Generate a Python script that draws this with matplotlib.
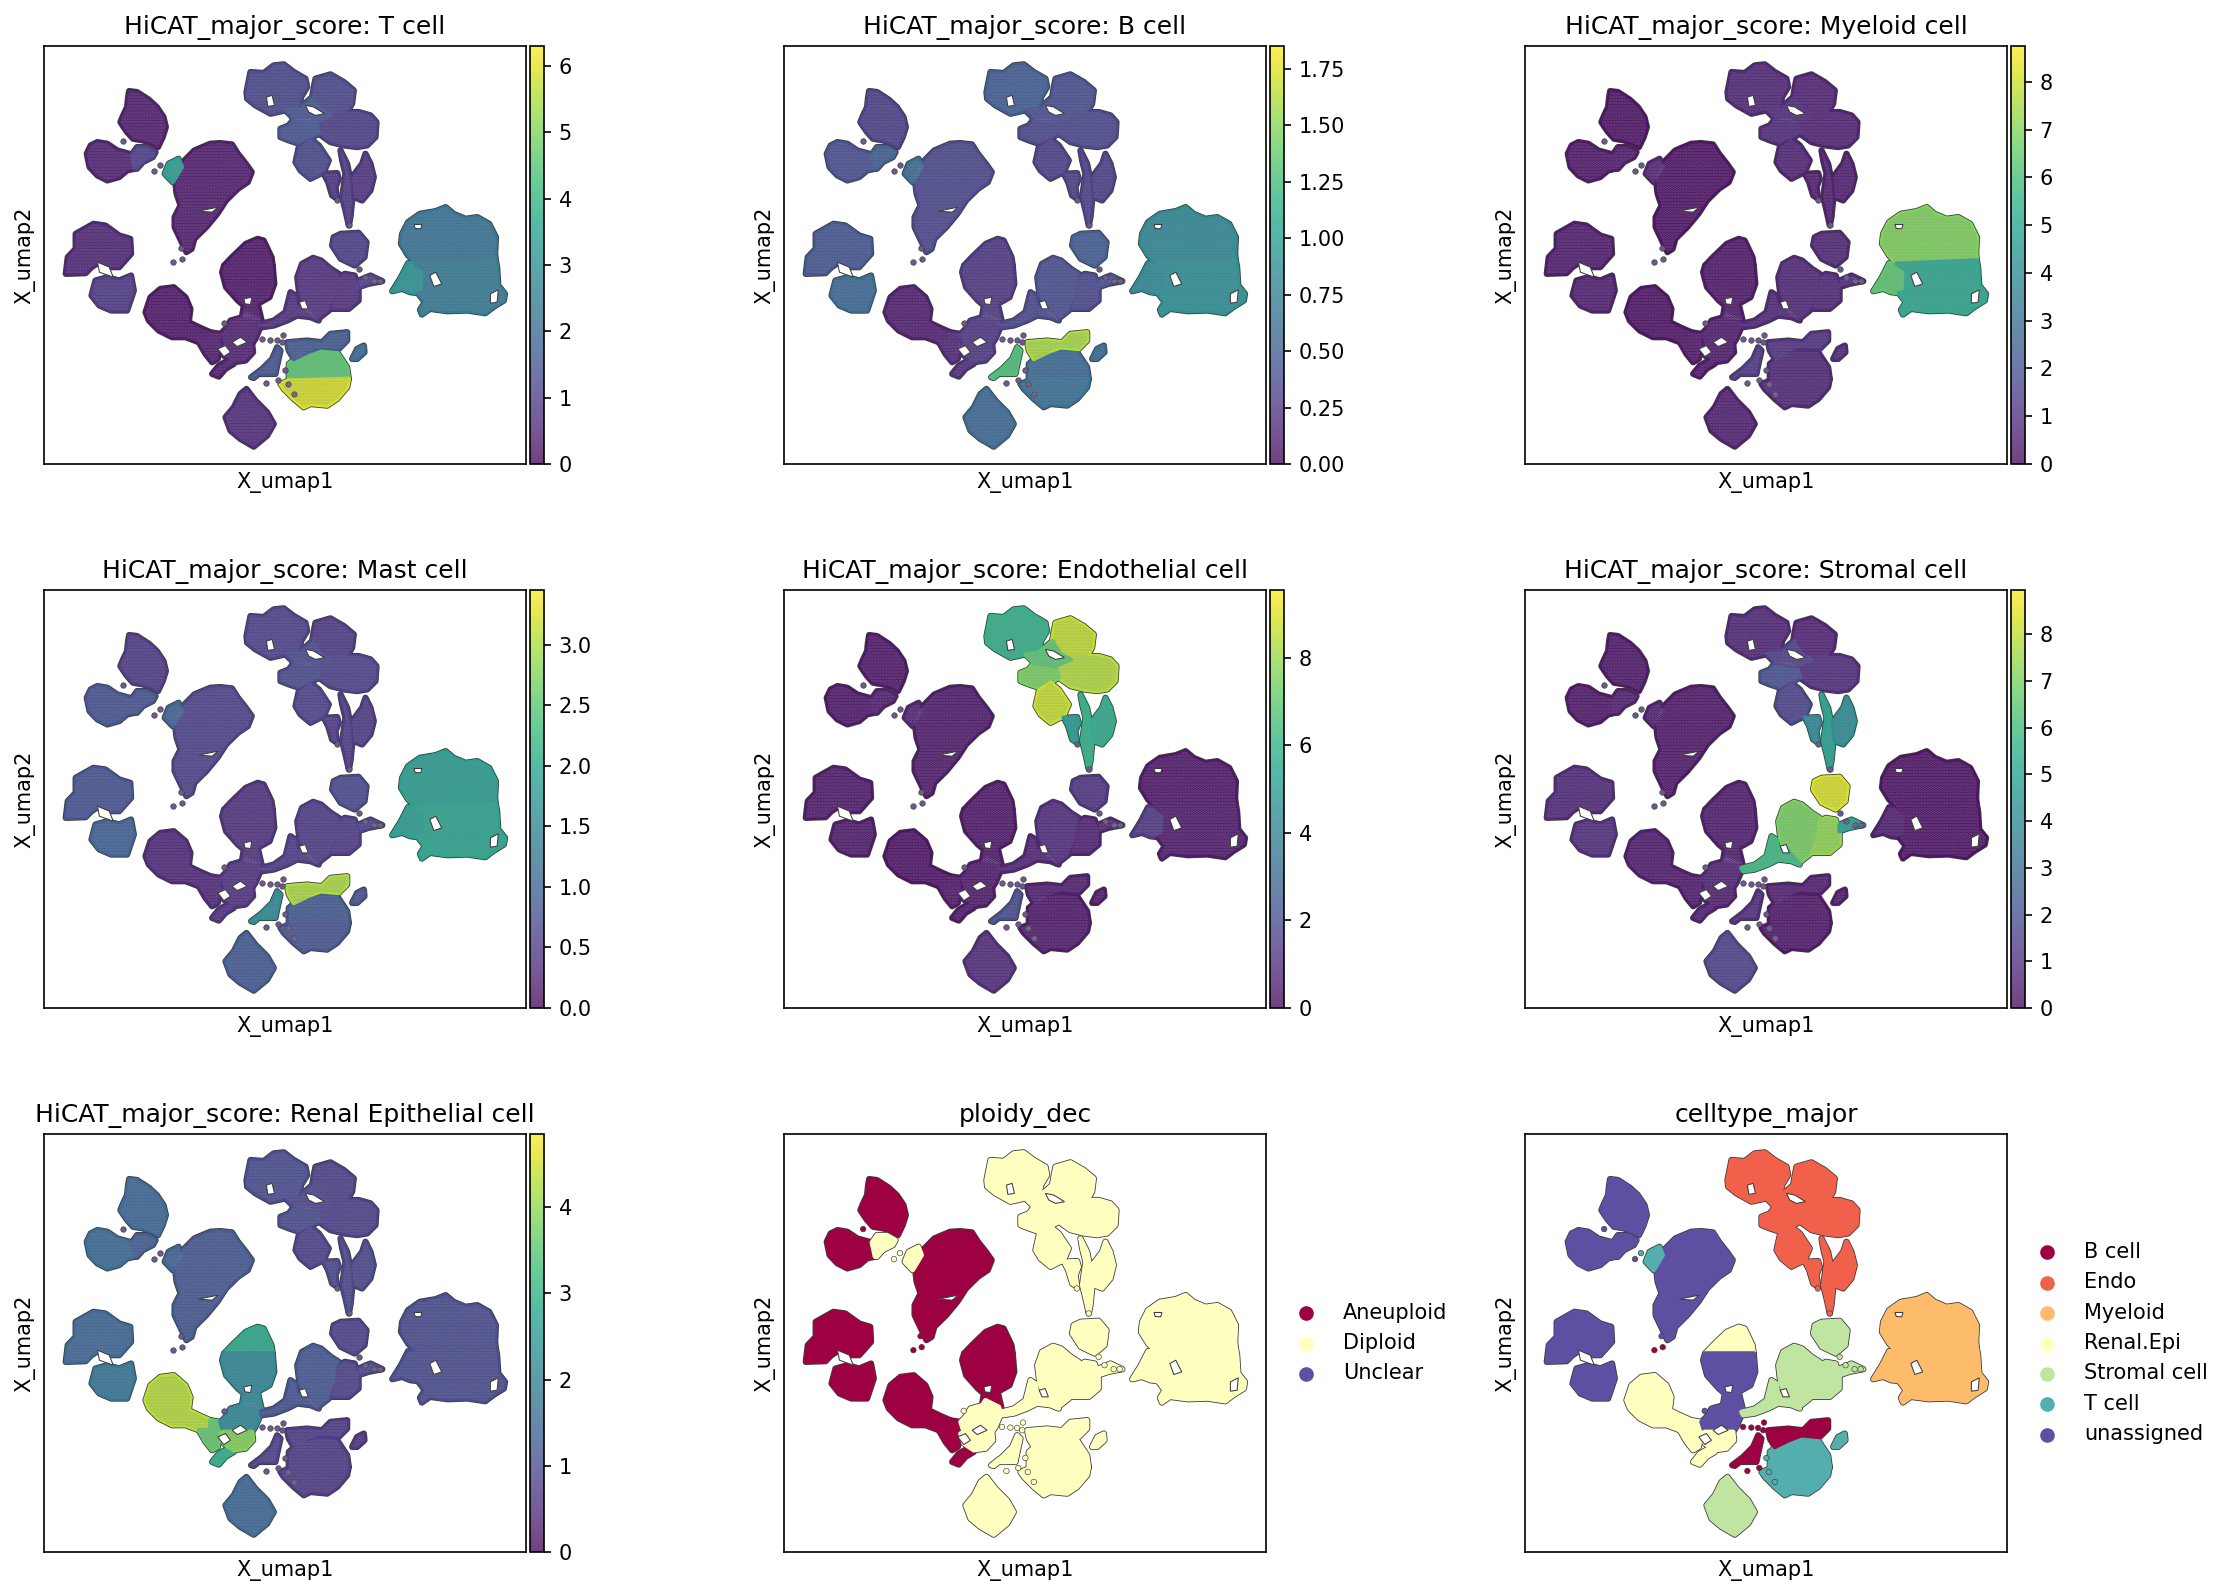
import matplotlib
matplotlib.use("Agg")
import matplotlib.pyplot as plt
from matplotlib.cm import ScalarMappable
from matplotlib.colors import Normalize

# cluster outlines, y axis points down (see umap_xlim / umap_ylim)
umap_xlim = (110, 1328)
umap_ylim = (1390, 137)


def crop(points, x0, y0):
    # outlines traced on a closer crop of the first panel
    return [(2.527 * (x0 + u / 3), 3 * y0 + v) for u, v in points]


a_top = [(325,272),(345,275),(375,298),(395,320),(412,350),(418,380),(410,410),(398,440),(385,430),(360,420),(335,415),(320,395),(310,378),(303,365),(310,345),(320,320),(322,295)]
b_wing = [(245,425),(270,430),(295,450),(332,462),(340,505),(320,510),(300,530),(270,540),(245,525),(225,500),(218,460),(228,435)]
b_right = [(332,462),(345,440),(370,440),(392,455),(385,470),(360,485),(345,505),(340,505)]
c_big = [(530,430),(555,428),(585,432),(600,460),(620,490),(635,515),(625,545),(600,565),(570,600),(548,640),(520,680),(490,715),(483,745),(470,755),(458,725),(440,680),(440,650),(455,615),(445,580),(440,530),(452,500),(465,480),(490,450)]
c_tstray = [(425,490),(450,475),(458,500),(435,545),(415,520)]
d_mid = [(235,670),(265,675),(300,705),(328,715),(330,760),(300,800),(270,800),(250,785),(230,800),(215,818),(165,820),(170,770),(190,745),(190,700)]
e_low = [(240,840),(270,830),(300,840),(330,825),(337,870),(320,930),(280,930),(250,915),(230,885)]
f_top = [(650,715),(665,720),(685,770),(688,795),(565,795),(585,770),(620,730)]
f_low = [(565,795),(688,795),(692,850),(680,890),(650,910),(660,960),(610,950),(615,915),(600,900),(570,860),(560,815)]
g_blob = crop([(45,125),(60,80),(90,55),(130,50),(165,80),(180,115),(175,155),(210,172),(240,185),(240,215),(205,215),(165,200),(125,200),(85,180),(55,150)], 130, 270)
g_tail = crop([(240,185),(270,190),(270,225),(262,265),(245,275),(225,250),(205,215),(240,215)], 130, 270)
g_tip = crop([(300,265),(265,285),(245,310),(265,318),(285,295),(310,280)], 130, 270)
h_up = crop([(285,175),(300,150),(335,140),(345,125),(385,145),(392,165),(375,205),(365,220),(280,220),(270,190)], 130, 270)
h_low = crop([(280,220),(365,220),(368,245),(345,270),(310,275),(280,255),(270,225)], 130, 270)
j_strom = [(790,772),(810,780),(835,805),(855,820),(850,880),(830,930),(800,958),(770,930),(755,880),(750,830),(762,790)]
k_strom = [(870,820),(895,825),(905,860),(905,900),(880,925),(835,925),(850,880),(855,830)]
k_tail = [(905,840),(935,825),(965,842),(930,850),(905,860)]
l_round = [(860,700),(905,697),(925,725),(920,770),(895,795),(860,775),(838,735),(842,710)]
i_band = crop([(390,160),(430,150),(465,125),(480,65),(495,75),(500,105),(530,110),(565,150),(540,140),(500,135),(470,150),(430,165),(395,170)], 130, 270)
m_top = [(1125,620),(1145,640),(1175,655),(1205,650),(1235,670),(1252,710),(1250,760),(1252,780),(1050,790),(1030,765),(1012,730),(1015,700),(1030,665),(1060,640),(1100,632)]
m_lobe = [(990,872),(1012,830),(1030,788),(1050,790),(1075,810),(1072,875),(1055,878),(1035,875),(1015,865)]
m_low = [(1050,790),(1252,780),(1255,800),(1258,855),(1275,880),(1272,900),(1245,920),(1225,938),(1180,930),(1130,932),(1085,925),(1065,942),(1060,928),(1072,905),(1055,878),(1072,875),(1075,810)]
n_top = crop([(475,280),(510,250),(570,240),(620,245),(650,290),(655,325),(475,330)], 130, 270)
n_low = crop([(475,330),(655,325),(650,350),(620,385),(590,405),(540,400),(520,410),(490,385),(460,355),(450,340)], 130, 270)
n_patch = crop([(665,265),(680,235),(700,225),(702,245),(680,265)], 130, 270)
bc_band = crop([(470,215),(530,210),(575,215),(600,190),(650,185),(650,210),(625,235),(570,230),(530,245),(490,265),(475,240)], 130, 270)
bc_wedge = crop([(362,320),(395,295),(425,265),(440,230),(450,240),(440,285),(435,310),(410,310),(385,310),(370,322)], 130, 270)
o_bottom = crop([(348,355),(375,390),(410,425),(430,460),(410,495),(370,528),(330,505),(300,480),(285,440),(310,410),(330,370)], 130, 270)
p1 = crop([(48,125),(60,65),(100,68),(130,45),(160,42),(190,65),(225,85),(230,110),(212,140),(205,175),(165,180),(120,190),(75,165),(50,145)], 230, 50)
p2 = crop([(255,85),(300,72),(340,95),(370,120),(365,160),(350,185),(300,195),(270,180),(245,140),(250,110)], 230, 50)
p3 = crop([(350,185),(385,185),(420,195),(438,215),(435,260),(410,285),(380,290),(340,285),(300,275),(265,250),(255,215),(300,195)], 230, 50)
p4 = crop([(190,205),(240,205),(255,215),(265,250),(240,265),(205,280),(175,270),(150,260),(150,235),(175,225)], 230, 50)
p5 = crop([(205,290),(240,265),(265,285),(295,330),(280,365),(240,385),(210,360),(195,335)], 230, 50)
p6 = crop([(330,300),(350,340),(360,390),(365,450),(360,500),(355,525),(345,480),(335,440),(345,370),(335,330)], 230, 50)
p7 = crop([(405,310),(420,340),(430,380),(420,420),(395,450),(370,440),(365,380),(395,340)], 230, 50)
p8 = crop([(280,370),(320,368),(325,385),(315,410),(320,445),(305,435),(293,395)], 230, 50)
p_link = crop([(165,180),(205,175),(245,140),(270,180),(300,195),(255,215),(190,205)], 230, 50)

regions = [a_top, b_wing, b_right, c_big, c_tstray, d_mid, e_low, f_top, f_low, g_blob, g_tail, g_tip,
           h_up, h_low, j_strom, k_strom, k_tail, l_round, i_band, m_top, m_lobe, m_low, n_top, n_low,
           n_patch, bc_band, bc_wedge, o_bottom, p1, p2, p3, p4, p5, p6, p7, p8, p_link]

# gaps inside the clusters
holes = [
    crop([(108,140),(125,135),(132,165),(112,168)], 230, 50),
    crop([(225,165),(250,170),(282,190),(255,195),(235,185)], 230, 50),
    crop([(262,235),(285,225),(300,245),(280,258)], 130, 270),
    crop([(305,215),(330,200),(350,215),(320,228)], 130, 270),
    [(1045,672),(1065,672),(1062,685),(1048,684)],
    [(1085,825),(1100,815),(1115,850),(1095,858)],
    [(1238,880),(1258,868),(1255,905),(1238,908)],
    [(245,785),(275,800),(285,830),(250,815)],
    [(500,632),(550,620),(535,635)],
    [(755,905),(770,900),(778,925),(762,925)],
    [(615,895),(635,890),(632,912),(618,910)],
]

# stray cells around the clusters, with the group each one has in the two category panels
stray_x = [310,403,388,437,458,455,850,672,905,920,880,564,661,682,699,714,712,702,720,726,741,943,958]
stray_y = [422,494,512,785,776,743,600,1147,805,830,675,967,1015,1017,1018,1002,1025,1138,1108,1150,1180,842,842]
stray_ploidy = [0,1,1,0,0,0,1,1,1,1,1,1,1,1,1,1,1,1,1,1,1,1,1]
stray_celltype = [6,5,6,0,0,6,1,0,4,4,1,6,0,0,0,0,0,0,5,5,5,4,4]

# mean score per region, same order as regions
t_cell = [.3,.4,1.0,.3,3.5,.5,.9,.2,.2,.2,.3,.3,.4,.4,.7,.7,1,1,.7,2.3,3.2,2.5,4.6,5.9,2,1.6,1.5,.6,1.2,1.2,1,1.5,1.2,.9,.8,.8,1.5]
b_cell = [.3,.4,.5,.35,.6,.45,.6,.25,.25,.1,.15,.2,.25,.25,.4,.35,.4,.5,.35,.85,.85,.9,.6,.65,.6,1.6,1.3,.6,.5,.4,.35,.35,.3,.3,.3,.3,.4]
myeloid = [.2,.3,.4,.2,.6,.4,.5,.3,.3,.2,.3,.3,.4,.4,.7,.7,.8,.7,.7,7.0,6.4,5.2,.7,.7,.8,1,1.2,.5,.7,.6,.6,.8,.6,.5,.5,.5,.8]
mast = [.5,.8,.8,.6,1.0,.8,1.0,.4,.4,.3,.3,.4,.4,.4,.5,.5,.6,.7,.5,1.9,1.9,2.0,.9,.8,.8,3.0,1.6,.9,.6,.5,.6,.7,.6,.5,.5,.5,.7]
endothelial = [.3,.3,.5,.4,.6,.4,.4,.3,.3,.2,.3,.3,.4,.4,.9,.6,.8,1.2,.7,.3,1.3,.4,.3,.4,.4,.5,2.0,.9,6.0,8.6,8.4,7.5,8.7,6.0,5.8,5.0,7.0]
stromal = [.3,.3,.5,.3,.5,.8,.9,.4,.4,.4,.4,.5,.6,.5,7.0,7.4,5,8.4,6,.2,.5,.2,.3,.3,.4,.5,.9,1.6,.7,.6,.9,2.0,1.6,5.0,4.2,4.0,1.4]
renal = [1.5,1.6,1.3,1.2,1.4,1.5,1.8,2.9,2.2,4.3,3.6,3.0,2.2,3.9,1.2,.8,.9,.8,1.1,1.0,1.0,1.0,.7,.7,.6,.7,.8,1.5,1.0,.8,.8,1.0,.8,.9,.9,.9,.9]

score_panels = [
    ("HiCAT_major_score: T cell", t_cell, 6.3, [0, 1, 2, 3, 4, 5, 6]),
    ("HiCAT_major_score: B cell", b_cell, 1.85, [0, .25, .5, .75, 1, 1.25, 1.5, 1.75]),
    ("HiCAT_major_score: Myeloid cell", myeloid, 8.75, [0, 1, 2, 3, 4, 5, 6, 7, 8]),
    ("HiCAT_major_score: Mast cell", mast, 3.45, [0, .5, 1, 1.5, 2, 2.5, 3]),
    ("HiCAT_major_score: Endothelial cell", endothelial, 9.55, [0, 2, 4, 6, 8]),
    ("HiCAT_major_score: Stromal cell", stromal, 8.95, [0, 1, 2, 3, 4, 5, 6, 7, 8]),
    ("HiCAT_major_score: Renal Epithelial cell", renal, 4.85, [0, 1, 2, 3, 4]),
]

ploidy_names = ["Aneuploid", "Diploid", "Unclear"]
ploidy_colors = ["#9e0142", "#ffffbf", "#5e4fa2"]
ploidy_of_region = [0,0,1,0,1,0,0,0,0,0,0,0,1,1,1,1,1,1,1,1,1,1,1,1,1,1,1,1,1,1,1,1,1,1,1,1,1]

celltype_names = ["B cell", "Endo", "Myeloid", "Renal.Epi", "Stromal cell", "T cell", "unassigned"]
celltype_colors = ["#9e0142", "#f0604a", "#fdbb6c", "#ffffbf", "#bfe5a0", "#54aead", "#5e4fa2"]
celltype_of_region = [6,6,6,6,5,6,6,3,6,3,3,3,6,3,4,4,4,4,4,2,2,2,5,5,5,0,0,4,1,1,1,1,1,1,1,1,1]

# axes boxes in pixels of the saved figure: left, right, top, bottom
col_px = [(44, 526), (784, 1266), (1525, 2007)]
row_px = [(46, 464), (590, 1008), (1134, 1552)]
fig_w, fig_h = 2228, 1596
dpi = 150
outline = "#3c3c3c"
speckle = "#8f87a070"


def panel_axes(fig, row, col):
    l, r = col_px[col]
    t, b = row_px[row]
    ax = fig.add_axes([l / fig_w, 1 - b / fig_h, (r - l) / fig_w, (b - t) / fig_h])
    ax.set_xlim(*umap_xlim)
    ax.set_ylim(*umap_ylim)
    ax.set_xticks([])
    ax.set_yticks([])
    ax.set_xlabel("X_umap1")
    ax.set_ylabel("X_umap2")
    return ax


def draw_regions(ax, colors, hatch=None):
    # outline layer first, fill on top, so splits inside a cluster do not show
    # fat round edges take the corners off the traced outlines
    for region in regions:
        xs, ys = zip(*region)
        ax.fill(xs, ys, facecolor=outline, edgecolor=outline, linewidth=3.0, joinstyle="round", zorder=1)
    for region, c in zip(regions, colors):
        xs, ys = zip(*region)
        ax.fill(xs, ys, facecolor=c, edgecolor=c, linewidth=2.2, joinstyle="round", zorder=2)
    if hatch:
        for region in regions:
            xs, ys = zip(*region)
            ax.fill(xs, ys, facecolor="none", edgecolor=speckle, linewidth=0, hatch=hatch, zorder=2.5)
    for hole in holes:
        xs, ys = zip(*hole)
        ax.fill(xs, ys, facecolor="white", edgecolor=outline, linewidth=0.5, zorder=3)


def washed(c, a=0.95):
    return tuple(a * v + (1 - a) for v in c[:3])


def score_panel(fig, row, col, title, values, vmax, ticks):
    ax = panel_axes(fig, row, col)
    norm = Normalize(0, vmax)
    cmap = plt.get_cmap("viridis")
    draw_regions(ax, [washed(cmap(norm(v))) for v in values], hatch="........")
    ax.scatter(stray_x, stray_y, s=7, c="#6d5a8c", edgecolors=outline, linewidths=0.3, zorder=2)
    ax.set_title(title, fontsize=12)
    l, r = col_px[col]
    t, b = row_px[row]
    cax = fig.add_axes([(r + 4) / fig_w, 1 - b / fig_h, 14 / fig_w, (b - t) / fig_h])
    fig.colorbar(ScalarMappable(norm=norm, cmap=cmap), cax=cax, ticks=ticks, alpha=0.75)


def category_panel(fig, row, col, title, names, palette, membership, stray_group):
    ax = panel_axes(fig, row, col)
    draw_regions(ax, [palette[i] for i in membership])
    ax.scatter(stray_x, stray_y, s=7, c=[palette[i] for i in stray_group], edgecolors=outline, linewidths=0.3, zorder=2)
    for name, c in zip(names, palette):
        ax.scatter([], [], c=c, label=name)
    ax.legend(frameon=False, loc="center left", bbox_to_anchor=(1, 0.5))
    ax.set_title(title, fontsize=12)


def main():
    fig = plt.figure(figsize=(fig_w / dpi, fig_h / dpi), dpi=dpi)
    for i, (title, values, vmax, ticks) in enumerate(score_panels):
        score_panel(fig, i // 3, i % 3, title, values, vmax, ticks)
    category_panel(fig, 2, 1, "ploidy_dec", ploidy_names, ploidy_colors, ploidy_of_region, stray_ploidy)
    category_panel(fig, 2, 2, "celltype_major", celltype_names, celltype_colors, celltype_of_region, stray_celltype)
    fig.savefig("out.png", dpi=dpi)


main()
